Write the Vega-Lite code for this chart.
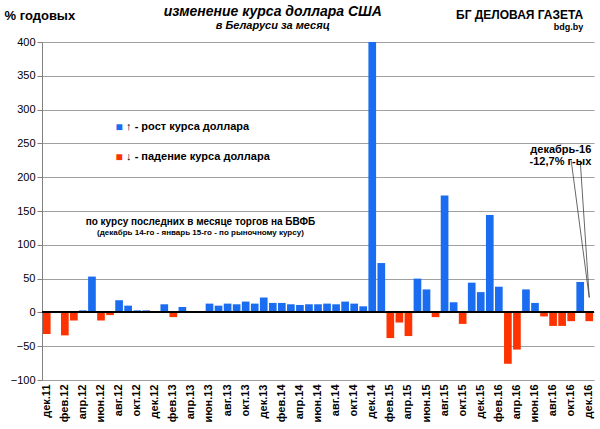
{
  "$schema": "https://vega.github.io/schema/vega-lite/v6.json",
  "width": 552,
  "height": 338,
  "padding": {"left": 4, "top": 4, "right": 6, "bottom": 2},
  "background": "white",
  "config": {"font": "Liberation Sans", "view": {"stroke": null}},
  "data": {"values": [
    {"m": "дек.11", "v": -32}, {"m": "янв.12", "v": 0}, {"m": "фев.12", "v": -34}, {"m": "мар.12", "v": -12},
    {"m": "апр.12", "v": 3}, {"m": "май.12", "v": 53}, {"m": "июн.12", "v": -12}, {"m": "июл.12", "v": -4},
    {"m": "авг.12", "v": 18}, {"m": "сен.12", "v": 10}, {"m": "окт.12", "v": 3}, {"m": "ноя.12", "v": 3},
    {"m": "дек.12", "v": 0}, {"m": "янв.13", "v": 12}, {"m": "фев.13", "v": -7}, {"m": "мар.13", "v": 8},
    {"m": "апр.13", "v": 0}, {"m": "май.13", "v": 2}, {"m": "июн.13", "v": 13}, {"m": "июл.13", "v": 10},
    {"m": "авг.13", "v": 13}, {"m": "сен.13", "v": 12}, {"m": "окт.13", "v": 16}, {"m": "ноя.13", "v": 13},
    {"m": "дек.13", "v": 22}, {"m": "янв.14", "v": 14}, {"m": "фев.14", "v": 14}, {"m": "мар.14", "v": 12},
    {"m": "апр.14", "v": 11}, {"m": "май.14", "v": 12}, {"m": "июн.14", "v": 12}, {"m": "июл.14", "v": 13},
    {"m": "авг.14", "v": 12}, {"m": "сен.14", "v": 16}, {"m": "окт.14", "v": 13}, {"m": "ноя.14", "v": 9},
    {"m": "дек.14", "v": 420}, {"m": "янв.15", "v": 73}, {"m": "фев.15", "v": -38}, {"m": "мар.15", "v": -15},
    {"m": "апр.15", "v": -35}, {"m": "май.15", "v": 50}, {"m": "июн.15", "v": 34}, {"m": "июл.15", "v": -7},
    {"m": "авг.15", "v": 173}, {"m": "сен.15", "v": 15}, {"m": "окт.15", "v": -17}, {"m": "ноя.15", "v": 44},
    {"m": "дек.15", "v": 30}, {"m": "янв.16", "v": 144}, {"m": "фев.16", "v": 38}, {"m": "мар.16", "v": -76},
    {"m": "апр.16", "v": -55}, {"m": "май.16", "v": 34}, {"m": "июн.16", "v": 14}, {"m": "июл.16", "v": -6},
    {"m": "авг.16", "v": -20}, {"m": "сен.16", "v": -20}, {"m": "окт.16", "v": -13}, {"m": "ноя.16", "v": 45},
    {"m": "дек.16", "v": -13}
  ]},
  "encoding": {
    "x": {
      "field": "m", "type": "nominal", "sort": null, "title": null,
      "scale": {"paddingInner": 0.15, "paddingOuter": 0.1},
      "axis": {
        "values": ["дек.11","фев.12","апр.12","июн.12","авг.12","окт.12","дек.12","фев.13","апр.13","июн.13","авг.13","окт.13","дек.13","фев.14","апр.14","июн.14","авг.14","окт.14","дек.14","фев.15","апр.15","июн.15","авг.15","окт.15","дек.15","фев.16","апр.16","июн.16","авг.16","окт.16","дек.16"],
        "labelAngle": -90, "labelFontWeight": "bold", "labelFontSize": 11, "labelColor": "black",
        "ticks": false, "domain": false, "offset": 0, "labelPadding": 4
      }
    },
    "y": {
      "field": "v", "type": "quantitative",
      "scale": {"domain": [-100, 400]},
      "axis": {
        "values": [-100, -50, 0, 50, 100, 150, 200, 250, 300, 350, 400],
        "title": "% годовых", "titleAngle": 0, "titleX": -38, "titleY": -20, "titleAlign": "left",
        "titleFontSize": 13, "titleFontWeight": "bold",
        "labelFontSize": 11, "labelColor": "black", "gridColor": "#a0a0a0", "domainColor": "#808080", "tickColor": "#808080"
      }
    }
  },
  "layer": [
    {
      "mark": {"type": "bar", "clip": true},
      "encoding": {
        "color": {"condition": {"test": "datum.v < 0", "value": "#ff3300"}, "value": "#1a6cf0"}
      }
    },
    {
      "mark": {"type": "rule", "color": "black"},
      "encoding": {"y": {"datum": 0}, "x": null}
    },
    {
      "data": {"values": [
        {"m": "янв.14", "v": 445, "t": "изменение курса доллара США", "s": 14},
        {"m": "янв.14", "v": 424, "t": "в Беларуси за месяц", "s": 11}
      ]},
      "mark": {"type": "text", "align": "center", "fontWeight": "bold", "fontStyle": "italic", "clip": false},
      "encoding": {"text": {"field": "t"}, "size": {"field": "s", "type": "quantitative", "scale": null}}
    },
    {
      "data": {"values": [
        {"m": "авг.12", "v": 275, "t": "■", "c": "blue"},
        {"m": "авг.12", "v": 230, "t": "■", "c": "red"}
      ]},
      "mark": {"type": "text", "fontSize": 12, "align": "center"},
      "encoding": {
        "text": {"field": "t"},
        "color": {"field": "c", "type": "nominal", "scale": {"domain": ["blue", "red"], "range": ["#1a6cf0", "#ff3300"]}, "legend": null}
      }
    },
    {
      "data": {"values": [
        {"m": "авг.12", "v": 275, "t": "↑ - рост курса доллара"},
        {"m": "авг.12", "v": 230, "t": "↓ - падение курса доллара"}
      ]},
      "mark": {"type": "text", "fontSize": 11, "fontWeight": "bold", "align": "left", "dx": 7},
      "encoding": {"text": {"field": "t"}}
    },
    {
      "data": {"values": [
        {"m": "май.13", "v": 133, "t": "по курсу последних в месяце торгов  на БВФБ", "s": 10},
        {"m": "май.13", "v": 118, "t": "(декабрь 14-го - январь 15-го - по рыночному курсу)", "s": 8}
      ]},
      "mark": {"type": "text", "align": "center", "fontWeight": "bold"},
      "encoding": {"text": {"field": "t"}, "size": {"field": "s", "type": "quantitative", "scale": null}}
    },
    {
      "data": {"values": [
        {"m": "окт.16", "v": 225, "m2": "дек.16", "v2": 22},
        {"m": "ноя.16", "v": 225, "m2": "дек.16", "v2": 22}
      ]},
      "mark": {"type": "rule", "color": "#404040", "strokeWidth": 0.8},
      "encoding": {"x2": {"field": "m2"}, "y2": {"field": "v2"}}
    },
    {
      "data": {"values": [
        {"m": "дек.16", "v": 240, "t": "декабрь-16"},
        {"m": "дек.16", "v": 222, "t": "-12,7% г-ых"}
      ]},
      "mark": {"type": "text", "fontSize": 11, "fontWeight": "bold", "align": "right", "dx": 2},
      "encoding": {"text": {"field": "t"}}
    },
    {
      "data": {"values": [
        {"m": "дек.16", "v": 440, "t": "БГ ДЕЛОВАЯ ГАЗЕТА", "s": 12},
        {"m": "дек.16", "v": 422, "t": "bdg.by", "s": 9}
      ]},
      "mark": {"type": "text", "align": "right", "dx": -6, "fontWeight": "bold", "clip": false, "fontFamily": "Liberation Serif"},
      "encoding": {"text": {"field": "t"}, "size": {"field": "s", "type": "quantitative", "scale": null}}
    }
  ]
}
